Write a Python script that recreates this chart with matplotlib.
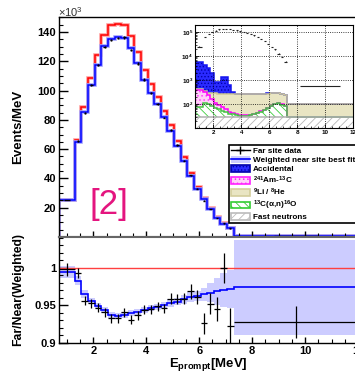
import numpy as np
import matplotlib
matplotlib.use('Agg')
import matplotlib.pyplot as plt
from matplotlib.patches import Patch
from matplotlib.lines import Line2D
from matplotlib.ticker import MultipleLocator, FixedLocator, FixedFormatter, LogLocator

plt.rcParams['font.family'] = ['Liberation Sans', 'DejaVu Sans']
plt.rcParams['font.weight'] = 'bold'
plt.rcParams['mathtext.fontset'] = 'custom'
plt.rcParams['mathtext.rm'] = 'Liberation Sans'
plt.rcParams['mathtext.bf'] = 'Liberation Sans:bold'
plt.rcParams['mathtext.default'] = 'bf'
plt.rcParams['hatch.linewidth'] = 0.6

# prompt energy binning [MeV]
edges = [0.7, 1.3, 1.55, 1.8, 2.05, 2.3, 2.55, 2.8, 3.05, 3.3, 3.55, 3.8, 4.05,
         4.3, 4.55, 4.8, 5.05, 5.3, 5.55, 5.8, 6.05, 6.3, 6.55, 6.8, 7.05, 7.3, 12.0]

# spectra in 10^3 events/MeV
near_noosc = [25.2, 66.0, 88.8, 108.8, 124.0, 138.0, 144.5, 145.8, 144.8, 137.3, 126.5, 114.0, 104.2,
              95.8, 86.3, 76.2, 65.3, 54.4, 43.5, 34.4, 26.8, 20.1, 13.7, 9.4, 6.35, 0.62]
near_fit = [25.1, 65.0, 85.5, 104.0, 117.6, 130.2, 135.4, 136.5, 135.7, 129.0, 119.2, 107.6, 98.6,
            90.8, 82.0, 72.6, 62.4, 52.1, 41.8, 33.1, 25.85, 19.4, 13.3, 9.1, 6.2, 0.6]
far_data = [25.15, 65.5, 84.9, 103.7, 117.4, 129.9, 134.8, 136.0, 136.3, 127.8, 118.5, 107.6, 98.5,
            90.9, 81.6, 73.1, 62.6, 52.2, 42.2, 33.1, 24.8, 19.1, 12.9, 9.4, 5.85, 0.575]
far_err = [0.2, 0.5, 0.6, 0.7, 0.7, 0.8, 0.8, 0.8, 0.8, 0.8, 0.8, 0.7, 0.7,
           0.7, 0.6, 0.6, 0.6, 0.5, 0.45, 0.4, 0.35, 0.3, 0.25, 0.2, 0.15, 0.02]

# far/near ratio
ratio_data = [0.998, 0.993, 0.956, 0.953, 0.947, 0.941, 0.933, 0.933, 0.941, 0.931, 0.937, 0.944, 0.945,
              0.949, 0.946, 0.959, 0.9585, 0.959, 0.969, 0.9615, 0.926, 0.952, 0.945, 1.0, 0.922, 0.9275]
ratio_err = [0.009, 0.007, 0.006, 0.006, 0.006, 0.006, 0.006, 0.006, 0.006, 0.006, 0.006, 0.006, 0.006,
             0.006, 0.006, 0.007, 0.007, 0.007, 0.010, 0.009, 0.014, 0.014, 0.016, 0.020, 0.025, 0.0215]
ratio_fit = [0.995, 0.983, 0.965, 0.956, 0.9495, 0.944, 0.937, 0.9365, 0.937, 0.9395, 0.9418, 0.944, 0.946,
             0.948, 0.9505, 0.953, 0.955, 0.958, 0.961, 0.9625, 0.9648, 0.967, 0.969, 0.9705, 0.972, 0.974]
ratio_band = [0.008, 0.006, 0.005, 0.004, 0.004, 0.004, 0.004, 0.004, 0.004, 0.004, 0.004, 0.004, 0.004,
              0.004, 0.004, 0.005, 0.005, 0.006, 0.007, 0.007, 0.009, 0.013, 0.018, 0.022, 0.025, 0.063]

# backgrounds, events/MeV
bkg_fastn = [30, 30, 30, 30, 30, 30, 30, 30, 30, 30, 30, 30, 30,
             30, 30, 30, 30, 30, 30, 30, 30, 30, 30, 30, 30, 30]
bkg_c13 = [47, 76, 70, 53, 40, 30, 22, 16, 10, 7, 5, 3, 2,
           3, 5, 8, 12, 18, 25, 36, 50, 70, 76, 65, 50, 0]
bkg_amc = [303, 219, 137, 73, 43, 31, 21, 14, 8, 4, 3, 2, 2,
           1.5, 1, 1, 1, 1, 1, 1, 1, 1, 1, 1, 1, 0]
bkg_li9 = [60, 40, 63, 129, 167, 184, 197, 205, 214, 219, 220, 223, 224,
           224, 222, 219, 215, 211, 209, 208, 209, 199, 188, 174, 159, 70]
bkg_acc = [5310, 3815, 2800, 1715, 570, 575, 1110, 1115, 358, 70, 3, 3, 3,
           3, 3, 3, 3, 3, 3, 3, 3, 3, 3, 3, 3, 2]

edges = np.array(edges)
centers = 0.5 * (edges[1:] + edges[:-1])
halfw = 0.5 * (edges[1:] - edges[:-1])

fig = plt.figure(figsize=(3.55, 3.72), dpi=100)
W, H = 355.0, 372.0
def box(x0, y0, x1, y1):
    return [x0 / W, 1 - y1 / H, (x1 - x0) / W, (y1 - y0) / H]

ax = fig.add_axes(box(59, 17, 358, 237))
axr = fig.add_axes(box(59, 237, 358, 343))
axi = fig.add_axes(box(195, 25, 353, 128))

# ---- spectrum
ax.stairs(near_noosc, edges, color='#ff9d9d', lw=2.6)
ax.stairs(near_noosc, edges, color='red', lw=1.1)
ax.stairs(near_fit, edges, color='#a0a0ff', lw=2.6)
ax.stairs(near_fit, edges, color='blue', lw=1.1)
ax.errorbar(centers, far_data, yerr=far_err, xerr=halfw * 0.35, fmt='none', ecolor='k', elinewidth=1.0, zorder=5)
ax.set_xlim(0.7, 12)
ax.set_ylim(0, 150.3)
ax.yaxis.set_major_locator(FixedLocator([20, 40, 60, 80, 100, 120, 140]))
ax.yaxis.set_minor_locator(MultipleLocator(5))
ax.xaxis.set_major_locator(MultipleLocator(2))
ax.xaxis.set_minor_locator(MultipleLocator(0.5))
ax.tick_params(axis='x', labelbottom=False)
ax.set_ylabel('Events/MeV', fontsize=9.5, fontweight='bold')
ax.yaxis.set_label_coords(-0.118, 0.5)
fig.text(58 / W, 1 - 12 / H, r'$\mathregular{\times10^{3}}$', fontsize=8, color='#333333',
         fontweight='normal', va='center', ha='left')
fig.text(109 / W, 1 - 205 / H, '[2]', color='#e4157f', fontsize=25, fontweight='normal',
         ha='center', va='center')

handles = [
    Line2D([], [], color='k', marker='+', markersize=6, lw=1),
    (Patch(facecolor='#ccccff', edgecolor='none'), Line2D([], [], color='blue', lw=1.2)),
    Patch(facecolor='#2a2aff', edgecolor='#0000aa', hatch='.....', lw=1.2),
    Patch(facecolor='#ffd0f8', edgecolor='#ff22ff', hatch='....', lw=1.2),
    Patch(facecolor='#e9e5c3', edgecolor='#d3cd9c', lw=1.2),
    Patch(facecolor='white', edgecolor='#33cc33', hatch='\\\\\\\\', lw=1.2),
    Patch(facecolor='white', edgecolor='#bbbbbb', hatch='////', lw=1.2),
]
labels = ['Far site data', 'Weighted near site best fit', 'Accidental',
          r'$^{241}$Am-$^{13}$C', r'$^{9}$Li / $^{8}$He', r'$^{13}$C(α,n)$^{16}$O', 'Fast neutrons']
leg = ax.legend(handles, labels, loc='upper left', bbox_to_anchor=(229 / W, 1 - 145 / H),
                bbox_transform=fig.transFigure, prop={'weight': 'bold', 'size': 5.9},
                frameon=True, fancybox=False, edgecolor='k', framealpha=1,
                borderaxespad=0, borderpad=0.25, labelspacing=0.12, handlelength=2.3,
                handleheight=0.85, handletextpad=0.35)
leg.get_frame().set_linewidth(1.2)

# ---- ratio
fit = np.array(ratio_fit)
band = np.array(ratio_band)
axr.stairs(fit + band, edges, baseline=fit - band, fill=True, color='#ccccff', lw=0)
axr.axhline(1.0, color='#ff4040', lw=1.0)
axr.stairs(fit, edges, baseline=None, color='blue', lw=1.2)
axr.errorbar(centers, ratio_data, yerr=ratio_err, xerr=halfw, fmt='none', ecolor='k', elinewidth=0.9, zorder=5)
axr.set_xlim(0.7, 12)
axr.set_ylim(0.9, 1.041)
axr.yaxis.set_major_locator(FixedLocator([0.9, 0.95, 1.0]))
axr.yaxis.set_major_formatter(FixedFormatter(['0.9', '0.95', '1']))
axr.yaxis.set_minor_locator(MultipleLocator(0.01))
axr.xaxis.set_major_locator(MultipleLocator(2))
axr.xaxis.set_minor_locator(MultipleLocator(0.5))
axr.set_ylabel('Far/Near(Weighted)', fontsize=8.8, fontweight='bold')
axr.yaxis.set_label_coords(-0.118, 0.5)
axr.set_xlabel(r'E$_{prompt}$[MeV]', fontsize=9.5, fontweight='bold', labelpad=0)

for a in (ax, axr):
    a.spines['right'].set_visible(False)
    for s in a.spines.values():
        s.set_linewidth(1.0)
    a.tick_params(axis='both', which='major', direction='in', length=6.5, width=1.0,
                  labelsize=8, pad=2)
    a.tick_params(axis='both', which='minor', direction='in', length=3.2, width=0.8)
    a.tick_params(axis='x', which='major', length=4.5)
    a.tick_params(axis='x', which='minor', length=2.8)
ax.spines['bottom'].set_color('#666666')
axr.spines['top'].set_color('#666666')
ax.spines['bottom'].set_linewidth(1.5)
axr.spines['top'].set_linewidth(1.5)

# ---- background inset (log scale, stacked)
comps = [bkg_fastn, bkg_c13, bkg_amc, bkg_li9, bkg_acc]
tops = np.cumsum(np.array(comps, dtype=float), axis=0)
bottoms = [np.ones(len(centers))] + [tops[i] for i in range(4)]
fills = [('white', '#b5b5b5', '////'), ('white', '#3ccc3c', '\\\\\\\\'),
         ('#ffd0f8', '#ff40ff', '....'), ('#e9e5c3', '#e9e5c3', None),
         ('#2a2aff', '#0000aa', '.....')]
lines = ['#b0b0b0', '#44c444', '#ff00ff', '#cfc996', '#1515ee']
for i in range(5):
    fc, hc, ht = fills[i]
    axi.stairs(tops[i], edges, baseline=bottoms[i], fill=True, facecolor=fc,
               edgecolor=hc, hatch=ht, lw=0)
for i in range(4, -1, -1):
    axi.stairs(tops[i], edges, baseline=None, color=lines[i], lw=1.1)
axi.errorbar(centers, np.array(far_data) * 1000, yerr=np.array(far_err) * 1000, xerr=halfw * 0.6,
             fmt='none', ecolor='#222222', elinewidth=0.8, zorder=5)
axi.set_yscale('log')
axi.set_xlim(0.7, 12)
axi.set_ylim(10, 2e5)
axi.xaxis.set_major_locator(MultipleLocator(2))
axi.xaxis.set_minor_locator(MultipleLocator(0.5))
axi.yaxis.set_major_locator(FixedLocator([1e2, 1e3, 1e4, 1e5]))
axi.yaxis.set_minor_locator(LogLocator(subs=(2, 3, 4, 5, 6, 7, 8, 9)))
axi.grid(True, which='major', ls=':', color='k', lw=0.6)
axi.tick_params(axis='both', which='major', direction='in', length=3, width=0.6, labelsize=4.5, pad=1.5)
axi.tick_params(axis='both', which='minor', direction='in', length=1.5, width=0.5)
axi.tick_params(axis='y', which='minor', labelleft=False)
for s in axi.spines.values():
    s.set_linewidth(0.8)

fig.savefig('out.png', dpi=100)
